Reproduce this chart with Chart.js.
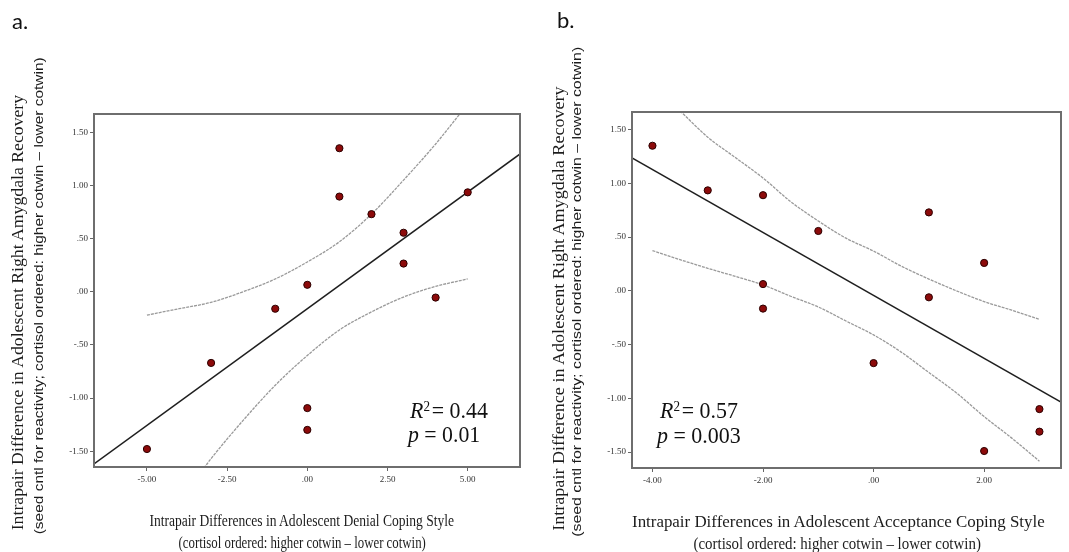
<!DOCTYPE html>
<html>
<head>
<meta charset="utf-8">
<script src="https://cdn.jsdelivr.net/npm/chart.js@4.4.1/dist/chart.umd.min.js"></script>
<style>
  html, body { margin: 0; padding: 0; background: #ffffff; }
  #wrap { position: relative; width: 1069px; height: 552px; overflow: hidden; background: #fff; }
  canvas { position: absolute; top: 0; }
  .t { position: absolute; white-space: nowrap; color: #1c1c1c; line-height: 1.2; }
  .serif { font-family: "Liberation Serif", "DejaVu Serif", serif; }
  .sans { font-family: "Liberation Sans", Arial, sans-serif; }
  .panel { font-family: Lato, "Open Sans", sans-serif; font-size: 22px; color: #111; }
  .stat { font-family: "Liberation Serif", serif; font-size: 23px; color: #111; }
  .it { font-style: italic; }
  .sup { font-size: 0.6em; vertical-align: 0.5em; line-height: 0; }
</style>
</head>
<body>
<div id="wrap">
  <canvas id="chartA" width="540" height="552" style="left:0px"></canvas>
  <canvas id="chartB" width="529" height="552" style="left:540px"></canvas>

  <div id="labA" class="t panel">a.</div>
  <div id="labB" class="t panel">b.</div>

  <div id="yA1" class="t serif" style="font-size:16px">Intrapair Difference in Adolescent Right Amygdala Recovery</div>
  <div id="yA2" class="t sans" style="font-size:13px">(seed cntl for reactivity; cortisol ordered: higher cotwin – lower cotwin)</div>
  <div id="yB1" class="t serif" style="font-size:16px">Intrapair Difference in Adolescent Right Amygdala Recovery</div>
  <div id="yB2" class="t sans" style="font-size:13px">(seed cntl for reactivity; cortisol ordered: higher cotwin – lower cotwin)</div>

  <div id="xA1" class="t serif" style="font-size:16px">Intrapair Differences in Adolescent Denial Coping Style</div>
  <div id="xA2" class="t serif" style="font-size:16px">(cortisol ordered: higher cotwin – lower cotwin)</div>
  <div id="xB1" class="t serif" style="font-size:16px">Intrapair Differences in Adolescent Acceptance Coping Style</div>
  <div id="xB2" class="t serif" style="font-size:16px">(cortisol ordered: higher cotwin – lower cotwin)</div>

  <div id="sA1" class="t stat"><span class="it">R</span><span class="sup">2</span>&#8202;= 0.44</div>
  <div id="sA2" class="t stat"><span class="it">p</span> = 0.01</div>
  <div id="sB1" class="t stat"><span class="it">R</span><span class="sup">2</span>&#8202;= 0.57</div>
  <div id="sB2" class="t stat"><span class="it">p</span> = 0.003</div>
</div>

<script>
// ===================== DATA =====================
// Panel a: Denial coping style vs right amygdala recovery
const denialDiff    = [-5, -3, -1, 0, 0, 0, 1, 1, 2, 3, 3, 4, 5];
const recoveryDiffA = [-1.48, -0.67, -0.16, 0.065, -1.095, -1.30, 1.35, 0.895, 0.73, 0.555, 0.265, -0.055, 0.935];
const fitLineAX = [-6.65, 6.65];
const fitLineAY = [-1.62, 1.30];
const ciUpperAX = [-5, -4, -3, -2, -1, 0, 1, 2, 3, 4, 4.8];
const ciUpperAY = [-0.22, -0.16, -0.10, 0.0, 0.12, 0.28, 0.47, 0.73, 1.05, 1.39, 1.69];
const ciLowerAX = [-3.3, -3.2, -3, -2, -1, 0, 1, 2, 3, 4, 5];
const ciLowerAY = [-1.69, -1.65, -1.57, -1.21, -0.88, -0.60, -0.36, -0.19, -0.05, 0.05, 0.12];

// Panel b: Acceptance coping style vs right amygdala recovery
const acceptDiff    = [-4, -3, -2, -2, -2, -1, 0, 1, 1, 2, 2, 3, 3];
const recoveryDiffB = [1.35, 0.935, 0.89, 0.063, -0.165, 0.557, -0.672, 0.73, -0.06, 0.26, -1.49, -1.10, -1.31];
const fitLineBX = [-4.37, 3.39];
const fitLineBY = [1.236, -1.035];
const ciUpperBX = [-3.55, -3, -2.5, -2, -1.5, -1, -0.5, 0, 0.5, 1, 1.5, 2, 2.5, 3];
const ciUpperBY = [1.70, 1.43, 1.24, 1.05, 0.83, 0.65, 0.49, 0.37, 0.23, 0.11, 0.0, -0.10, -0.18, -0.265];
const ciLowerBX = [-4, -3.5, -3, -2.5, -2, -1.5, -1, -0.5, 0, 0.5, 1, 1.5, 2, 2.5, 3];
const ciLowerBY = [0.375, 0.29, 0.21, 0.135, 0.055, -0.05, -0.15, -0.28, -0.41, -0.57, -0.76, -0.95, -1.17, -1.37, -1.585];

// Tick values and labels
const xTicksA = [-5, -2.5, 0, 2.5, 5];
const xTickLabelsA = ['-5.00', '-2.50', '.00', '2.50', '5.00'];
const xTicksB = [-4, -2, 0, 2];
const xTickLabelsB = ['-4.00', '-2.00', '.00', '2.00'];
const yTicks = [-1.5, -1, -0.5, 0, 0.5, 1, 1.5];
const yTickLabels = ['-1.50', '-1.00', '-.50', '.00', '.50', '1.00', '1.50'];

// ===================== CHARTS =====================
const zip = (xs, ys) => xs.map((x, i) => ({ x: x, y: ys[i] }));

const framePlugin = {
  id: 'frame',
  afterDraw(chart) {
    const a = chart.chartArea, ctx = chart.ctx;
    ctx.save();
    ctx.strokeStyle = '#6e6e6e';
    ctx.lineWidth = 2;
    ctx.strokeRect(a.left, a.top, a.right - a.left, a.bottom - a.top);
    ctx.restore();
  }
};

function makeChart(id, o) {
  return new Chart(document.getElementById(id), {
    type: 'scatter',
    data: {
      datasets: [
        { data: zip(o.px, o.py), showLine: false, pointRadius: 3.6, pointHoverRadius: 3.6,
          backgroundColor: '#8c0a0a', borderColor: '#2b0000', borderWidth: 1 },
        { data: zip(o.fx, o.fy), showLine: true, pointRadius: 0, borderColor: '#1f1f1f', borderWidth: 1.5 },
        { data: zip(o.ux, o.uy), showLine: true, pointRadius: 0, borderColor: '#9a9a9a', borderWidth: 1.3,
          cubicInterpolationMode: 'monotone', borderDash: [3, 1] },
        { data: zip(o.lx, o.ly), showLine: true, pointRadius: 0, borderColor: '#9a9a9a', borderWidth: 1.3,
          cubicInterpolationMode: 'monotone', borderDash: [3, 1] }
      ]
    },
    options: {
      responsive: false, animation: false, devicePixelRatio: 1,
      layout: { padding: { left: 0, top: o.padTop, right: o.padRight, bottom: 0 } },
      plugins: { legend: { display: false }, tooltip: { enabled: false } },
      scales: {
        x: {
          type: 'linear', min: o.xmin, max: o.xmax,
          afterBuildTicks: s => { s.ticks = o.xt.map(v => ({ value: v })); },
          afterFit: s => { s.height = o.xh; },
          ticks: { callback: v => o.xl[o.xt.indexOf(v)], autoSkip: false, maxRotation: 0,
                   font: { family: 'Liberation Serif', size: 9 }, color: '#333', padding: 3 },
          grid: { drawOnChartArea: false, drawTicks: true, tickLength: 4, color: '#666' },
          border: { display: false }
        },
        y: {
          type: 'linear', min: o.ymin, max: o.ymax,
          afterBuildTicks: s => { s.ticks = yTicks.map(v => ({ value: v })); },
          afterFit: s => { s.width = o.yw; },
          ticks: { callback: v => yTickLabels[yTicks.indexOf(v)], autoSkip: false,
                   font: { family: 'Liberation Serif', size: 9 }, color: '#333', padding: 2 },
          grid: { drawOnChartArea: false, drawTicks: true, tickLength: 4, color: '#666' },
          border: { display: false }
        }
      }
    },
    plugins: [framePlugin]
  });
}

makeChart('chartA', {
  px: denialDiff, py: recoveryDiffA, fx: fitLineAX, fy: fitLineAY,
  ux: ciUpperAX, uy: ciUpperAY, lx: ciLowerAX, ly: ciLowerAY,
  xt: xTicksA, xl: xTickLabelsA,
  xmin: -6.65, xmax: 6.63, ymin: -1.649, ymax: 1.672,
  padTop: 114, padRight: 20, yw: 94, xh: 85
});
makeChart('chartB', {
  px: acceptDiff, py: recoveryDiffB, fx: fitLineBX, fy: fitLineBY,
  ux: ciUpperBX, uy: ciUpperBY, lx: ciLowerBX, ly: ciLowerBY,
  xt: xTicksB, xl: xTickLabelsB,
  xmin: -4.37, xmax: 3.39, ymin: -1.648, ymax: 1.664,
  padTop: 112, padRight: 8, yw: 92, xh: 84
});

// ===================== TEXT PLACEMENT =====================
function place(id, cx, cy, target, rot, anchor) {
  const el = document.getElementById(id);
  const w = el.offsetWidth, h = el.offsetHeight;
  const s = target ? target / w : 1;
  if (anchor === 'left') {
    el.style.left = cx + 'px';
    el.style.top = (cy - h / 2) + 'px';
    el.style.transformOrigin = '0 50%';
    el.style.transform = 'scaleX(' + s + ')';
  } else {
    el.style.left = (cx - w / 2) + 'px';
    el.style.top = (cy - h / 2) + 'px';
    el.style.transformOrigin = '50% 50%';
    el.style.transform = (rot ? 'rotate(' + rot + 'deg) ' : '') + 'scaleX(' + s + ')';
  }
}
place('labA', 22, 21, 0, 0, 'left'); document.getElementById('labA').style.left = '12px';
place('labB', 567, 20, 0, 0, 'left'); document.getElementById('labB').style.left = '557px';

place('yA1', 17, 312, 435, -90);
place('yA2', 38, 296, 477, -90);
place('yB1', 558, 308, 444, -90);
place('yB2', 576, 292, 490, -90);

place('xA1', 302, 520, 305, 0);
place('xA2', 302, 542, 247, 0);
place('xB1', 838, 521, 413, 0);
place('xB2', 837, 543, 287, 0);

place('sA1', 410, 411, 78, 0, 'left');
place('sA2', 408, 435, 72, 0, 'left');
place('sB1', 660, 411, 78, 0, 'left');
place('sB2', 657, 436, 84, 0, 'left');
</script>
</body>
</html>
